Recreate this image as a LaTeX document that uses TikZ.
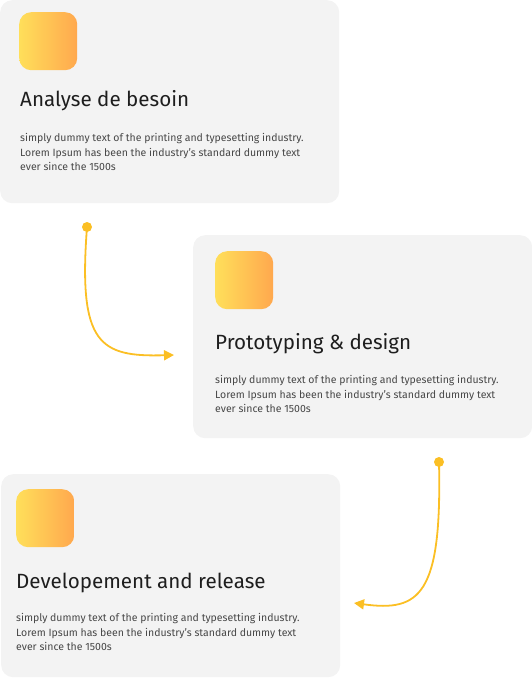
\documentclass[tikz,border=0pt]{standalone}
\usepackage{fontspec}
\setmainfont{Fira Sans}
\usetikzlibrary{arrows.meta}
\definecolor{cardbg}{HTML}{F3F3F3}
\definecolor{gradA}{HTML}{FFDF5A}
\definecolor{gradB}{HTML}{FFA84E}
\definecolor{flow}{HTML}{FBBF24}
\definecolor{titlecol}{HTML}{1E1E1E}
\definecolor{bodycol}{HTML}{474747}
\tikzset{
  card/.style={fill=cardbg, rounded corners=12pt, anchor=north west, inner sep=0pt,
    minimum width=339pt, minimum height=203pt},
  icon/.style={left color=gradA, right color=gradB, rounded corners=12pt,
    anchor=north west, inner sep=0pt, minimum size=58pt, draw=none},
  cardtitle/.style={anchor=base west, inner sep=0pt, text=titlecol,
    font=\fontsize{20.6}{24}\selectfont},
  cardbody/.style={anchor=north west, inner sep=0pt, text=bodycol, align=left,
    font=\fontsize{10.5}{14.8}\selectfont},
  flowdot/.style={circle, fill=flow, inner sep=0pt, minimum size=10pt},
  flowline/.style={draw=flow, line width=1.8pt, -{Triangle[length=10pt,width=10pt]}}
}
\begin{document}
\begin{tikzpicture}[x=1pt,y=-1pt]
\useasboundingbox (0,0) rectangle (532,678);

% three step cards
\node[card] (c1) at (0,0) {};
\node[card] (c2) at (193,235) {};
\node[card] (c3) at (1,474) {};

% gradient icons
\node[icon] (i1) at (19,12) {};
\node[icon] (i2) at (215,251) {};
\node[icon] (i3) at (16,489) {};

% titles
\node[cardtitle] (t1) at (20,106) {Analyse de besoin};
\node[cardtitle] (t2) at (215,349) {Prototyping \& design};
\node[cardtitle] (t3) at (16,588) {Developement and release};

% descriptions
\node[cardbody] (b1) at (20,133) {simply dummy text of the printing and typesetting industry.\\Lorem Ipsum has been the industry's standard dummy text\\ever since the 1500s};
\node[cardbody] (b2) at (215,375) {simply dummy text of the printing and typesetting industry.\\Lorem Ipsum has been the industry's standard dummy text\\ever since the 1500s};
\node[cardbody] (b3) at (16,613) {simply dummy text of the printing and typesetting industry.\\Lorem Ipsum has been the industry's standard dummy text\\ever since the 1500s};

% connectors between the steps
\node[flowdot] (d1) at (87,227) {};
\coordinate (e1) at (174,355);
\draw[flowline] (d1.center) .. controls (78,345) and (100,357) .. (e1);

\node[flowdot] (d2) at (439,462) {};
\coordinate (e2) at (354,603);
\draw[flowline] (d2.center) .. controls (442,595) and (420,612) .. (e2);
\end{tikzpicture}
\end{document}
